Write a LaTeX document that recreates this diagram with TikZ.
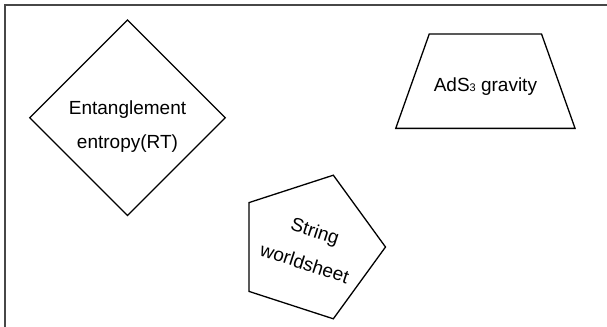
\documentclass[tikz,border=0pt]{standalone}
\usepackage{fontspec}
\setmainfont{Liberation Sans}
\usetikzlibrary{shapes.geometric,positioning}

\begin{document}
\begin{tikzpicture}[x=0.5pt, y=-0.5pt,
		shapebox/.style={draw=black, line width=0.65pt, inner sep=0pt},
		lbl/.style={align=center, font=\fontsize{9.5}{17}\selectfont, inner sep=0pt}]
	\useasboundingbox (0,0) rectangle (607,327);
	\draw [black!72, line width = 1pt] (5,327) -- (5,5) -- (607,5);

	\node (ent) at (127.5,117.8) [shapebox, diamond, aspect=1, minimum width=98pt, minimum height=98pt] {};
	\node (entlbl) at ([yshift=-4.3pt]ent.center) [lbl] {Entanglement\\entropy(RT)};

	\node (ads) at (485.4,81.2) [shapebox, inner sep=1pt, trapezium, trapezium stretches=true, trapezium left angle=73.4, trapezium right angle=73.4, minimum width=89.65pt, minimum height=47.15pt] {};
	\node (adslbl) at ([yshift=-2.8pt]ads.center) [lbl] {AdS{\fontsize{5.5}{6}\selectfont 3} gravity};

	\node (ws) at (310,247) [shapebox, regular polygon, regular polygon sides=5, minimum size=75.5pt, rotate=-18] {};
	\node (wslbl) at (ws.center) [lbl, rotate=-18] {String\\worldsheet};
\end{tikzpicture}
\end{document}
